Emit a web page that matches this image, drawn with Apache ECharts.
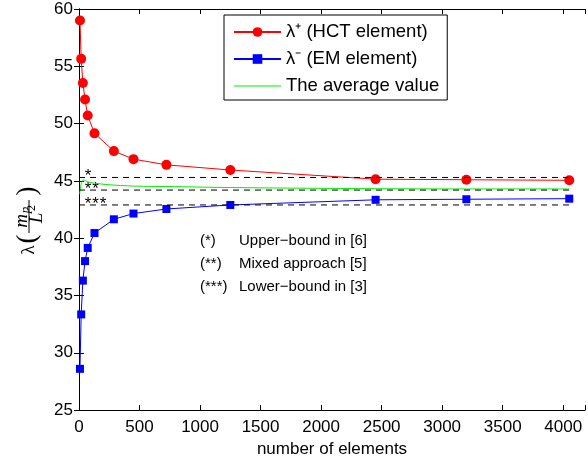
<!DOCTYPE html>
<html>
<head>
<meta charset="utf-8">
<script src="https://cdn.jsdelivr.net/npm/echarts@6/dist/echarts.min.js"></script>
<style>
  html, body { margin: 0; padding: 0; background: #fff; }
  #chart { width: 588px; height: 463px; }
</style>
</head>
<body>
<div id="chart"></div>
<script>
// number of elements (2 n^2 meshes)
const nElem = [8, 18, 32, 50, 72, 128, 288, 450, 722, 1250, 2450, 3200, 4050];
const lamPlus = [59.0, 55.65, 53.55, 52.1, 50.7, 49.15, 47.6, 46.9, 46.4, 45.95, 45.15, 45.1, 45.05];
const lamMinus = [28.6, 33.35, 36.3, 38.0, 39.15, 40.45, 41.65, 42.15, 42.55, 42.9, 43.35, 43.4, 43.45];

// average curve
const avgX = [5, 20, 38, 55, 80, 130, 240, 450, 790, 1250, 2450, 3200, 4050];
const avgVal = [43.85, 44.8, 45.1, 45.0, 44.9, 44.8, 44.67, 44.55, 44.5, 44.42, 44.32, 44.3, 44.3];

// reference values from the literature
const boundUpper = 45.3;
const boundMixed = 44.2;
const boundLower = 42.9;
const boundStart = 0;
const boundEnd = 4050;

const xTicks = [0, 500, 1000, 1500, 2000, 2500, 3000, 3500, 4000];

const notes = [
  ["(*)", "Upper\u2212bound in [6]"],
  ["(**)", "Mixed approach [5]"],
  ["(***)", "Lower\u2212bound in [3]"]
];

const pairs = (xs, ys) => xs.map((x, i) => [x, ys[i]]);
const sans = "Liberation Sans, Arial, Helvetica, sans-serif";
const serif = "Liberation Serif, Times New Roman, serif";

const chart = echarts.init(document.getElementById("chart"));

const axisCommon = {
  type: "value",
  axisLine: { show: true, lineStyle: { color: "#000", width: 1 } },
  axisTick: { show: true, inside: true, length: 5, lineStyle: { color: "#000" } },
  splitLine: { show: false }
};

function dashed(v) {
  return {
    type: "line",
    data: [[boundStart, v], [boundEnd, v]],
    symbol: "none",
    silent: true,
    lineStyle: { color: "#000", width: 1, type: [6, 5] },
    z: 5
  };
}

chart.setOption({
  animation: false,
  grid: { left: 79, top: 9, width: 510, height: 404 },
  xAxis: [
    Object.assign({}, axisCommon, {
      min: 0, max: 4180, interval: 500, position: "bottom",
      name: "number of elements", nameLocation: "middle", nameGap: 27,
      nameTextStyle: { fontSize: 17, fontFamily: sans, color: "#000" },
      axisLabel: {
        fontSize: 17, fontFamily: sans, color: "#000", margin: 9,
        formatter: (v) => (xTicks.indexOf(v) >= 0 ? String(v) : "")
      }
    }),
    Object.assign({}, axisCommon, {
      min: 0, max: 4180, interval: 500, position: "top",
      axisLabel: { show: false }
    })
  ],
  yAxis: [
    Object.assign({}, axisCommon, {
      min: 25, max: 60, interval: 5, position: "left",
      axisLabel: { fontSize: 17, fontFamily: sans, color: "#000", margin: 6 }
    }),
    Object.assign({}, axisCommon, {
      min: 25, max: 60, interval: 5, position: "right",
      axisLabel: { show: false }
    })
  ],
  legend: {
    left: 224, top: 15,
    orient: "vertical",
    data: [
      "\u03bb\u207a (HCT element)",
      "\u03bb\u207b (EM element)",
      { name: "The average value", icon: "path://M0,0H48V1H0Z" }
    ],
    backgroundColor: "#fff",
    borderColor: "#000", borderWidth: 1, borderRadius: 0,
    padding: [6, 8, 3, 9],
    itemWidth: 47, itemHeight: 12, itemGap: 5,
    textStyle: { fontSize: 18.5, fontFamily: sans, color: "#000", lineHeight: 22 }
  },
  series: [
    {
      name: "\u03bb\u207a (HCT element)",
      type: "line",
      data: pairs(nElem, lamPlus),
      symbol: "circle", symbolSize: 10,
      itemStyle: { color: "#ff0000" },
      lineStyle: { color: "#ff0000", width: 1 },
      z: 3
    },
    {
      name: "\u03bb\u207b (EM element)",
      type: "line",
      data: pairs(nElem, lamMinus),
      symbol: "rect", symbolSize: 8,
      itemStyle: { color: "#0000ff" },
      lineStyle: { color: "#0000ff", width: 1 },
      z: 3
    },
    {
      name: "The average value",
      type: "line",
      data: pairs(avgX, avgVal),
      symbol: "none", smooth: 0.3,
      itemStyle: { color: "#00ee00" },
      lineStyle: { color: "#00ee00", width: 1 },
      z: 2
    },
    dashed(boundUpper),
    dashed(boundMixed),
    dashed(boundLower)
  ]
});

// star markers over the dashed lines
const starX = [88, 95.5, 103];
const stars = [[boundUpper, 1], [boundMixed, 2], [boundLower, 3]];
const graphics = [];
stars.forEach(([v, n]) => {
  const p = chart.convertToPixel({ xAxisIndex: 0, yAxisIndex: 0 }, [0, v]);
  for (let k = 0; k < n; k++) {
    graphics.push({
      type: "text", x: starX[k], y: p[1] - 1,
      style: { text: "*", font: "17px " + sans, fill: "#000", align: "center", verticalAlign: "middle" }
    });
  }
});

// notes block
notes.forEach(([a, b], i) => {
  const y = 241 + i * 23;
  graphics.push({ type: "text", x: 200, y: y, style: { text: a, font: "15px " + sans, fill: "#000", verticalAlign: "middle" } });
  graphics.push({ type: "text", x: 239, y: y, style: { text: b, font: "15px " + sans, fill: "#000", verticalAlign: "middle" } });
});

// y axis name: lambda(m_p / L^2), rotated
graphics.push({
  type: "group", x: 28, y: 212, rotation: Math.PI / 2,
  children: [
    { type: "text", x: -38, y: 1, style: { text: "\u03bb", font: "19px " + serif, fill: "#000", align: "center", verticalAlign: "middle" } },
    { type: "text", x: -27, y: 0, style: { text: "(", font: "27px " + serif, fill: "#000", align: "center", verticalAlign: "middle" } },
    { type: "text", x: -9, y: -6, style: { text: "m", font: "italic 19px " + serif, fill: "#000", align: "center", verticalAlign: "middle" } },
    { type: "text", x: 2, y: -2, style: { text: "p", font: "italic 13px " + serif, fill: "#000", align: "center", verticalAlign: "middle" } },
    { type: "line", shape: { x1: -21, y1: 1, x2: 12, y2: 1 }, style: { stroke: "#000", lineWidth: 1 } },
    { type: "text", x: -6, y: 9, style: { text: "L", font: "italic 19px " + serif, fill: "#000", align: "center", verticalAlign: "middle" } },
    { type: "text", x: 4, y: 4, style: { text: "2", font: "12px " + serif, fill: "#000", align: "center", verticalAlign: "middle" } },
    { type: "text", x: 21, y: 0, style: { text: ")", font: "27px " + serif, fill: "#000", align: "center", verticalAlign: "middle" } }
  ]
});

chart.setOption({ graphic: graphics });
</script>
</body>
</html>
